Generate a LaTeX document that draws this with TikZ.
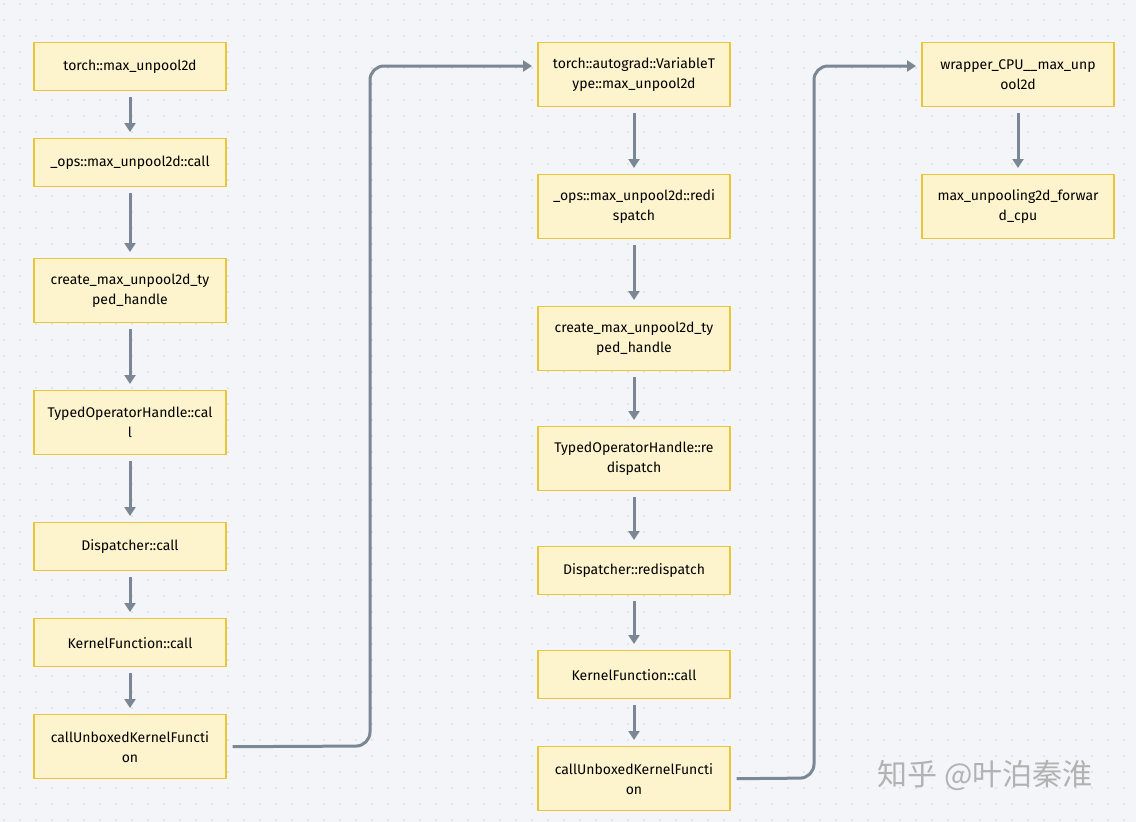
\documentclass[tikz,border=0pt]{standalone}
\usepackage{fontspec}
\setmainfont{Fira Sans}
\newfontfamily\cjk{Noto Sans CJK SC}
\usetikzlibrary{arrows.meta}
\definecolor{bg}{HTML}{F3F5F8}
\definecolor{boxfill}{HTML}{FDF3CC}
\definecolor{boxdraw}{HTML}{E8C53A}
\definecolor{arr}{HTML}{7B8794}
\begin{document}
\begin{tikzpicture}[x=1pt,y=-1pt,
  box/.style={draw=boxdraw,fill=boxfill,line width=1.4pt,minimum width=192pt,align=center,font=\fontsize{14}{20}\selectfont,inner sep=0pt,anchor=north},
  ar/.style={draw=arr,line width=3pt,-{Triangle[length=9pt,width=11pt]}},
  ln/.style={draw=arr,line width=3pt,rounded corners=14pt,-{Triangle[length=9pt,width=11pt]}}]
\fill[bg] (0,0) rectangle (1136,822);
\useasboundingbox (0,0) rectangle (1136,822);
\foreach \i in {0,...,70}{\foreach \j in {0,...,51}{\fill[gray!35] (4+16*\i,4+16*\j) circle (0.8pt);}}
% column 1
\node[box,minimum height=48pt] (a1) at (130,42) {torch::max\_unpool2d};
\node[box,minimum height=48pt] (a2) at (130,138) {\_ops::max\_unpool2d::call};
\node[box,minimum height=64pt] (a3) at (130,258) {create\_max\_unpool2d\_ty\\ped\_handle};
\node[box,minimum height=64pt] (a4) at (130,390) {TypedOperatorHandle::cal\\l};
\node[box,minimum height=48pt] (a5) at (130,522) {Dispatcher::call};
\node[box,minimum height=48pt] (a6) at (130,618) {KernelFunction::call};
\node[box,minimum height=64pt] (a7) at (130,714) {callUnboxedKernelFuncti\\on};
% column 2
\node[box,minimum height=64pt] (b1) at (634,42) {torch::autograd::VariableT\\ype::max\_unpool2d};
\node[box,minimum height=64pt] (b2) at (634,174) {\_ops::max\_unpool2d::redi\\spatch};
\node[box,minimum height=64pt] (b3) at (634,306) {create\_max\_unpool2d\_ty\\ped\_handle};
\node[box,minimum height=64pt] (b4) at (634,426) {TypedOperatorHandle::re\\dispatch};
\node[box,minimum height=48pt] (b5) at (634,546) {Dispatcher::redispatch};
\node[box,minimum height=48pt] (b6) at (634,650) {KernelFunction::call};
\node[box,minimum height=64pt] (b7) at (634,746) {callUnboxedKernelFuncti\\on};
% column 3
\node[box,minimum height=64pt] (c1) at (1018,42) {wrapper\_CPU\_\_max\_unp\\ool2d};
\node[box,minimum height=64pt] (c2) at (1018,174) {max\_unpooling2d\_forwar\\d\_cpu};
\coordinate (t1) at (532,66);
\coordinate (t2) at (916,66);
\foreach \p/\q in {a1/a2,a2/a3,a3/a4,a4/a5,a5/a6,a6/a7,b1/b2,b2/b3,b3/b4,b4/b5,b5/b6,b6/b7,c1/c2}
  \draw[ar] ([yshift=-6pt]\p.south) -- ([yshift=6pt]\q.north);
\draw[ln] ([xshift=6pt]a7.east) -- (370,746) -- (370,66) -- (t1);
\draw[ln] ([xshift=6pt]b7.east) -- (814,778) -- (814,66) -- (t2);
\node[text=gray!60,font=\cjk\fontsize{30}{32}\selectfont,anchor=center] (wm) at (985,775) {知乎 @叶泊秦淮};
\end{tikzpicture}
\end{document}
